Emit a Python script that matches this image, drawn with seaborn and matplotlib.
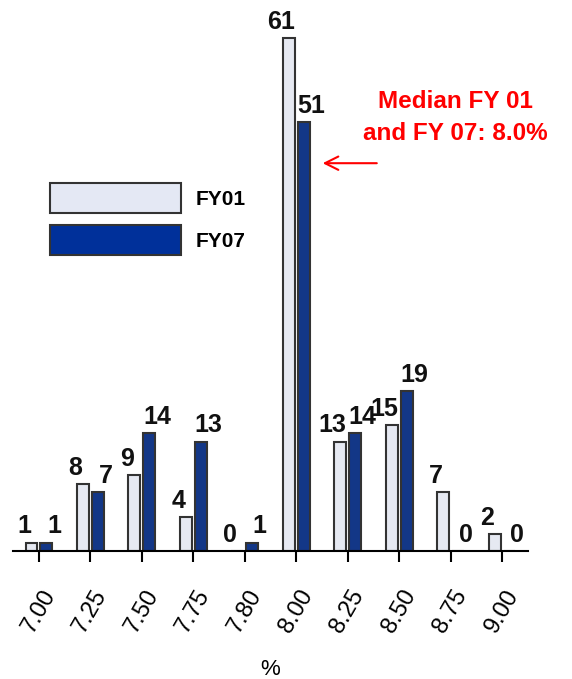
import matplotlib
matplotlib.use("Agg")
import matplotlib.pyplot as plt
import seaborn as sns
import pandas as pd
from matplotlib.patches import Patch

rates = ["7.00", "7.25", "7.50", "7.75", "7.80", "8.00", "8.25", "8.50", "8.75", "9.00"]
fy01 = [1, 8, 9, 4, 0, 61, 13, 15, 7, 2]
fy07 = [1, 7, 14, 13, 1, 51, 14, 19, 0, 0]
series = ["FY01", "FY07"]
colors = {"FY01": "#E4E8F4", "FY07": "#00309A"}

df = pd.DataFrame({
    "rate": rates * 2,
    "count": fy01 + fy07,
    "year": ["FY01"] * len(rates) + ["FY07"] * len(rates),
})

sns.set_theme(style="white")
plt.rcParams["font.family"] = ["Liberation Sans", "DejaVu Sans"]
plt.rcParams["text.color"] = "black"
plt.rcParams["xtick.color"] = "black"
plt.rcParams["axes.labelcolor"] = "black"

fig = plt.figure(figsize=(5.72, 6.79), dpi=100)
ax = fig.add_axes([13 / 572, 128 / 679, 515 / 572, 551 / 679])

sns.barplot(data=df, x="rate", y="count", hue="year", order=rates, hue_order=series,
            palette=colors, width=0.58, gap=0.2, edgecolor="#333333", linewidth=1.5,
            ax=ax, legend=False)

for cont, dx in zip(ax.containers, [-5.5, 5.5]):
    anns = ax.bar_label(cont, fmt="%d", padding=3, fontsize=18, fontweight="bold", color="#111111")
    for a in anns:
        a.xyann = (dx, 3)

ax.set_xlim(-0.505, 9.505)
ax.set_ylim(0, 65.5)
ax.set_yticks([])
ax.set_ylabel("")
for s in ["left", "top", "right"]:
    ax.spines[s].set_visible(False)
ax.spines["bottom"].set_color("black")
ax.spines["bottom"].set_linewidth(1.5)
ax.tick_params(axis="x", bottom=True, length=8, width=1.5, color="black", pad=17,
               labelsize=17, labelcolor="black")
for lbl in ax.get_xticklabels():
    lbl.set_rotation(60)
    lbl.set_ha("center")
    lbl.set_va("top")
ax.set_xlabel("%", fontsize=16, labelpad=16, color="black")

handles = [Patch(facecolor=colors[s], edgecolor="#333333", linewidth=1.5, label=s) for s in series]
leg = fig.legend(handles=handles, loc="upper left", bbox_to_anchor=(50 / 572, 1 - 183 / 679),
                 frameon=False, handlelength=6.3, handleheight=1.86, labelspacing=0.55,
                 handletextpad=0.7, borderpad=0, borderaxespad=0,
                 prop={"size": 15, "weight": "bold"})
for t in leg.get_texts():
    t.set_color("black")

ax.annotate("", xy=(5.46, 46.1), xytext=(6.62, 46.1),
            arrowprops=dict(arrowstyle="->", color="red", lw=1.5, mutation_scale=24))
ax.text(8.1, 51.5, "Median FY 01\nand FY 07: 8.0%", color="red", fontsize=17.5,
        fontweight="bold", ha="center", va="center", linespacing=1.5)

fig.savefig("out.png", dpi=100)
